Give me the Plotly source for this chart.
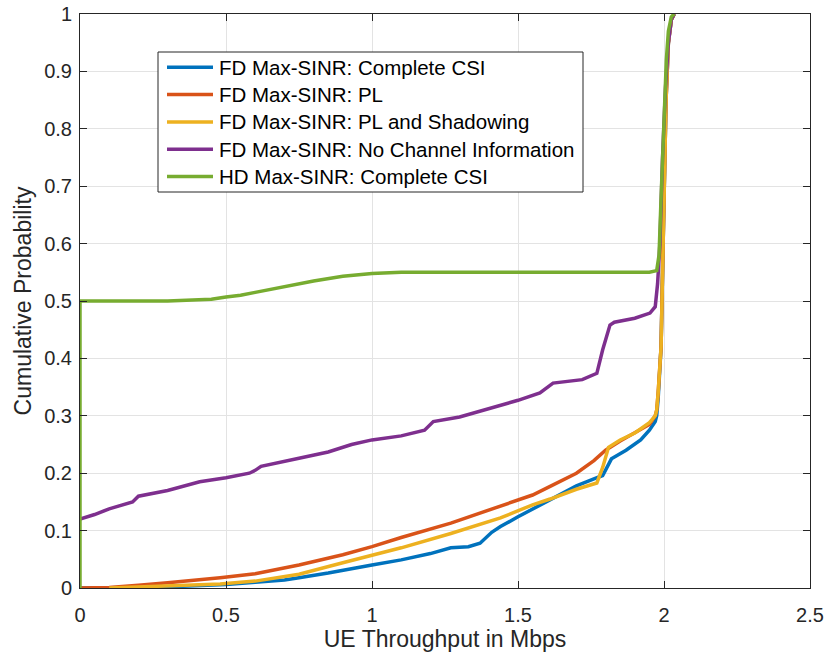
import plotly.graph_objects as go

# Empirical CDFs of UE throughput (Mbps) for each scheduling scheme
fd_csi_x = [0, 0.13, 0.2, 0.3, 0.4, 0.5, 0.6, 0.7, 0.75, 0.85, 1.0, 1.1, 1.2, 1.27, 1.33, 1.37,
            1.41, 1.44, 1.5, 1.56, 1.61, 1.7, 1.76, 1.79, 1.82, 1.87, 1.92, 1.95, 1.97,
            1.975, 1.98, 1.99, 1.995, 2.0, 2.007, 2.015, 2.025, 2.035]
fd_csi_y = [0, 0, 0.001, 0.002, 0.004, 0.006, 0.01, 0.014, 0.018, 0.026, 0.04, 0.049, 0.06, 0.07,
            0.072, 0.078, 0.097, 0.107, 0.124, 0.14, 0.155, 0.178, 0.19, 0.196, 0.225, 0.24,
            0.258, 0.275, 0.29, 0.3, 0.33, 0.42, 0.55, 0.68, 0.85, 0.95, 0.99, 1.0]

fd_pl_x = [0, 0.1, 0.2, 0.3, 0.48, 0.6, 0.75, 0.9, 1.0, 1.1, 1.27, 1.44, 1.55, 1.61, 1.7, 1.76,
           1.8, 1.85, 1.9, 1.95, 1.97, 1.975, 1.98, 1.99, 1.995, 2.0, 2.007, 2.015, 2.025, 2.035]
fd_pl_y = [0, 0.001, 0.005, 0.009, 0.018, 0.025, 0.04, 0.058, 0.072, 0.088, 0.113, 0.142, 0.162,
           0.177, 0.2, 0.222, 0.24, 0.256, 0.27, 0.285, 0.3, 0.31, 0.34, 0.42, 0.55, 0.68, 0.85,
           0.95, 0.99, 1.0]

fd_pl_sh_x = [0.1, 0.2, 0.35, 0.48, 0.6, 0.75, 0.9, 1.0, 1.1, 1.27, 1.44, 1.55, 1.61, 1.7, 1.77,
              1.79, 1.81, 1.85, 1.9, 1.95, 1.97, 1.975, 1.98, 1.99, 1.995, 2.0, 2.007, 2.015,
              2.025, 2.035]
fd_pl_sh_y = [0, 0.002, 0.004, 0.007, 0.012, 0.024, 0.044, 0.057, 0.07, 0.095, 0.122, 0.145,
              0.155, 0.172, 0.183, 0.21, 0.245, 0.258, 0.27, 0.288, 0.3, 0.31, 0.34, 0.42, 0.55,
              0.68, 0.85, 0.95, 0.99, 1.0]

fd_noinfo_x = [0, 0.05, 0.1, 0.18, 0.2, 0.25, 0.3, 0.41, 0.5, 0.58, 0.6, 0.62, 0.7, 0.75, 0.85,
               0.93, 1.0, 1.1, 1.18, 1.21, 1.3, 1.44, 1.5, 1.575, 1.6, 1.62, 1.72, 1.77, 1.79,
               1.815, 1.83, 1.9, 1.952, 1.97, 1.978, 1.986, 1.995, 2.005, 2.015, 2.025, 2.035]
fd_noinfo_y = [0.12, 0.128, 0.138, 0.15, 0.16, 0.165, 0.17, 0.185, 0.192, 0.2, 0.205, 0.212, 0.22,
               0.226, 0.237, 0.25, 0.258, 0.265, 0.275, 0.29, 0.298, 0.319, 0.327, 0.34, 0.35,
               0.357, 0.363, 0.374, 0.415, 0.458, 0.463, 0.47, 0.479, 0.49, 0.53, 0.6, 0.75,
               0.87, 0.95, 0.99, 1.0]

hd_csi_x = [0, 0, 0.3, 0.4, 0.45, 0.5, 0.55, 0.6, 0.7, 0.8, 0.9, 1.0, 1.1, 1.5, 1.95, 1.975,
            1.983, 1.99, 2.0, 2.008, 2.015, 2.025, 2.035]
hd_csi_y = [0, 0.5, 0.5, 0.501, 0.503, 0.507, 0.51, 0.515, 0.525, 0.535, 0.543, 0.548, 0.55,
            0.55, 0.55, 0.553, 0.58, 0.68, 0.82, 0.92, 0.97, 0.995, 1.0]

series = [
    ("FD Max-SINR: Complete CSI", fd_csi_x, fd_csi_y, "#0072BD"),
    ("FD Max-SINR: PL", fd_pl_x, fd_pl_y, "#D95319"),
    ("FD Max-SINR: PL and Shadowing", fd_pl_sh_x, fd_pl_sh_y, "#EDB120"),
    ("FD Max-SINR: No Channel Information", fd_noinfo_x, fd_noinfo_y, "#7E2F8E"),
    ("HD Max-SINR: Complete CSI", hd_csi_x, hd_csi_y, "#77AC30"),
]

x_ticks = [0, 0.5, 1, 1.5, 2, 2.5]
y_ticks = [0, 0.1, 0.2, 0.3, 0.4, 0.5, 0.6, 0.7, 0.8, 0.9, 1]

FONT = "Liberation Sans, Arial, sans-serif"
INK = "#262626"
W, H = 827, 661
ML, MR, MT, MB = 80, 17, 14, 73
PW, PH = W - ML - MR, H - MT - MB

fig = go.Figure()
for name, xs, ys, color in series:
    fig.add_trace(go.Scatter(x=xs, y=ys, name=name, mode="lines",
                             line=dict(color=color, width=3.5), showlegend=False))

axis_common = dict(
    showline=True, linecolor="#262626", linewidth=1, mirror="allticks",
    ticks="inside", ticklen=7, tickcolor="#262626", tickwidth=1,
    showgrid=True, gridcolor="#e3e3e3", gridwidth=1, zeroline=False,
    tickfont=dict(family=FONT, size=20, color=INK), automargin=False,
)

fig.update_xaxes(range=[0, 2.5], tickvals=x_ticks,
                 ticktext=[f"{v:g}" for v in x_ticks],
                 title=dict(text="UE Throughput in Mbps",
                            font=dict(family=FONT, size=23, color=INK), standoff=4),
                 ticklabelstandoff=9, **axis_common)
fig.update_yaxes(range=[0, 1], tickvals=y_ticks,
                 ticktext=[f"{v:g}" for v in y_ticks],
                 title=dict(text="Cumulative Probability",
                            font=dict(family=FONT, size=23, color=INK), standoff=6),
                 ticklabelstandoff=3, **axis_common)


# Legend box drawn in pixel units relative to the plot area
def px_x(p):
    return (p - ML) / PW


def px_y(p):
    return (H - MB - p) / PH


box_l, box_r, box_t, box_b = 158, 583, 52, 192
row0, row_gap = 67.3, 27.3
shapes = [dict(type="rect", xref="paper", yref="paper",
               x0=px_x(box_l), x1=px_x(box_r), y0=px_y(box_b), y1=px_y(box_t),
               line=dict(color="#262626", width=1), fillcolor="white", layer="above")]
annotations = []
for i, (name, _, _, color) in enumerate(series):
    yc = row0 + i * row_gap
    shapes.append(dict(type="line", xref="paper", yref="paper",
                       x0=px_x(167), x1=px_x(213), y0=px_y(yc), y1=px_y(yc),
                       line=dict(color=color, width=3.5), layer="above"))
    annotations.append(dict(text=name, xref="paper", yref="paper",
                            x=px_x(217), y=px_y(yc), xanchor="left", yanchor="middle",
                            showarrow=False, font=dict(family=FONT, size=20.5, color="black")))

fig.update_layout(
    width=W, height=H,
    margin=dict(l=ML, r=MR, t=MT, b=MB),
    paper_bgcolor="white", plot_bgcolor="white",
    showlegend=False,
    shapes=shapes, annotations=annotations,
)

fig.write_html("out.html")
